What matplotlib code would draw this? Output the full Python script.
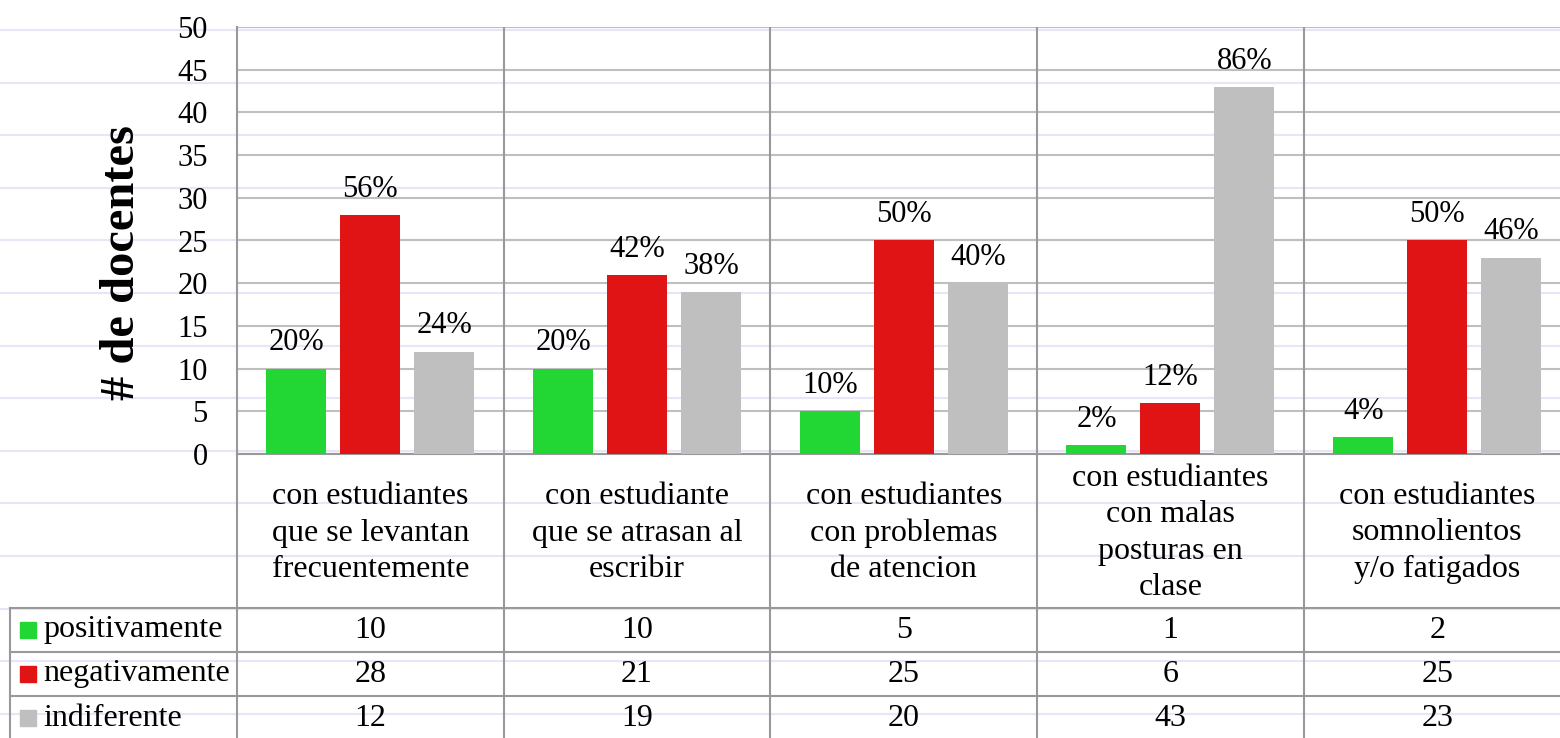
import matplotlib
matplotlib.use("Agg")
import matplotlib.pyplot as plt
from matplotlib.lines import Line2D
from matplotlib.patches import Rectangle
import numpy as np

plt.rcParams["font.family"] = ["Liberation Serif", "DejaVu Serif"]

categories = [
    "con estudiantes\nque se levantan\nfrecuentemente",
    "con estudiante\nque se atrasan al\nescribir",
    "con estudiantes\ncon problemas\nde atencion",
    "con estudiantes\ncon malas\nposturas en\nclase",
    "con estudiantes\nsomnolientos\ny/o fatigados",
]
series_names = ["positivamente", "negativamente", "indiferente"]
positivamente = [10, 10, 5, 1, 2]
negativamente = [28, 21, 25, 6, 25]
indiferente = [12, 19, 20, 43, 23]
pct_positivamente = ["20%", "20%", "10%", "2%", "4%"]
pct_negativamente = ["56%", "42%", "50%", "12%", "50%"]
pct_indiferente = ["24%", "38%", "40%", "86%", "46%"]

colors = ["#22d633", "#e01414", "#bfbfbf"]
grid_c = "#bfbfbf"
frame_c = "#999999"
FS = 22
FS_TAB = 23

W, H = 1560, 738
fig = plt.figure(figsize=(W / 100, H / 100), dpi=100)

# faint ruled lines in the background of the original image
for k in range(14):
    y = 1 - (30 + 52.6 * k) / H
    fig.add_artist(Line2D([0, 1], [y, y], transform=fig.transFigure,
                          color="#e6e6f8", lw=1.5, zorder=-5))

col_px = 266.7
x_left, y_top, y_zero = 237, 27, 454
ax = fig.add_axes([x_left / W, 1 - y_zero / H, (W - x_left) / W, (y_zero - y_top) / H])
ax.patch.set_alpha(0)
ax.set_xlim(0, (W - x_left) / col_px)
ax.set_ylim(0, 50)

x = np.arange(len(categories)) + 0.5
off = 74 / col_px
bw = 60 / col_px
series = [positivamente, negativamente, indiferente]
pcts = [pct_positivamente, pct_negativamente, pct_indiferente]
for i, (vals, labs) in enumerate(zip(series, pcts)):
    xs = x + (i - 1) * off
    ax.bar(xs, vals, width=bw, color=colors[i], zorder=3)
    for xi, v, lab in zip(xs, vals, labs):
        ax.annotate(lab, (xi, v), xytext=(0, 8), textcoords="offset points",
                    ha="center", va="bottom", fontsize=FS, zorder=4)

ax.set_yticks(range(0, 51, 5))
ax.tick_params(axis="y", length=0, pad=21, labelsize=FS)
ax.set_xticks([])
ax.yaxis.grid(True, color=grid_c, lw=1.5, zorder=0)
ax.set_axisbelow(True)
for s in ["top", "right"]:
    ax.spines[s].set_visible(False)
ax.spines["left"].set_color(frame_c)
ax.spines["left"].set_linewidth(1.5)
ax.spines["bottom"].set_color(frame_c)
ax.spines["bottom"].set_linewidth(1.5)
for i in range(1, len(categories) + 1):
    ax.axvline(i, color=frame_c, lw=1.5, zorder=2)

fig.text(122 / W, 1 - 262 / H, "# de docentes", rotation=90, ha="center", va="center",
         fontsize=35, fontweight="bold")

# data table below the plot
tax = fig.add_axes([10 / W, 0, (W - 10) / W, (H - y_zero) / H])
tax.patch.set_alpha(0)
tax.set_xlim(-(x_left - 10) / col_px, (W - x_left) / col_px)
tax.set_ylim(H - y_zero, 0)
tax.axis("off")

head_h, row_h = 154, 44
for i in range(0, len(categories) + 1):
    tax.plot([i, i], [0, H], color=frame_c, lw=1.5, clip_on=False)
left = -(x_left - 10) / col_px
for r in range(3):
    yy = head_h + r * row_h
    tax.plot([left, 5], [yy, yy], color=frame_c, lw=1.5, clip_on=False)
tax.plot([left, left], [head_h, H], color=frame_c, lw=1.5, clip_on=False)

for xi, cat in zip(x, categories):
    tax.text(xi, head_h / 2 + 2, cat, ha="center", va="center", fontsize=FS_TAB, linespacing=1.33)

sq = 16
for r, (name, vals) in enumerate(zip(series_names, series)):
    yc = head_h + r * row_h + row_h / 2
    tax.add_patch(Rectangle(((20 - x_left) / col_px, yc - sq / 2), sq / col_px, sq,
                            color=colors[r], clip_on=False))
    tax.text((43 - x_left) / col_px, yc, name, ha="left", va="center", fontsize=FS_TAB)
    for xi, v in zip(x, vals):
        tax.text(xi, yc, str(v), ha="center", va="center", fontsize=FS_TAB)

fig.savefig("out.png", dpi=100)
